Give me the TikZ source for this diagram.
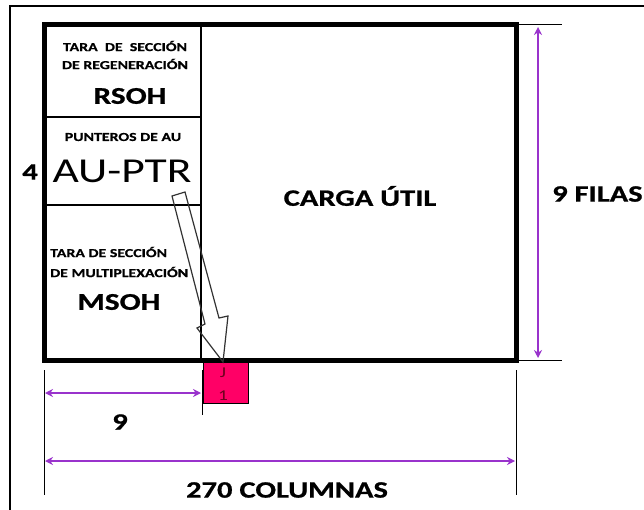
\documentclass[tikz,border=0pt]{standalone}
\usepackage{fontspec}
\setmainfont{Carlito}[FakeStretch=1.3,BoldFeatures={FakeBold=0.8}]
\usetikzlibrary{arrows.meta}
\definecolor{dimpurple}{RGB}{153,51,204}
\definecolor{jpink}{RGB}{255,0,102}
\definecolor{jred}{RGB}{110,0,30}

\begin{document}
\begin{tikzpicture}[x=1pt,y=-1pt,>={Stealth[length=8pt,width=8pt]},
                    small text/.style={font=\bfseries\fontsize{12.2}{14}\selectfont,inner sep=0pt},
                    big text/.style={font=\bfseries\fontsize{24}{26}\selectfont,inner sep=0pt},
                    dim text/.style={font=\bfseries\fontsize{23.5}{25}\selectfont,inner sep=0pt},
                    dim arrow/.style={<->,draw=dimpurple,line width=2.6pt},
                    tick line/.style={draw=black,line width=1pt}]
  \useasboundingbox (0,0) rectangle (644,510);
  % outer frame
  \draw[line width=1.5pt] (10,510) -- (10,6) -- (644,6);
  % frame of the STM
  \coordinate (tl) at (44,25);
  \coordinate (br) at (516,360);
  \draw[line width=1.3pt] (201,25) -- (201,360);
  \draw[line width=1.3pt] (44,117) -- (201,117);
  \draw[line width=1.3pt] (44,205) -- (201,205);
  \draw[line width=5pt] (tl) rectangle (br);
  % RSOH
  \node[small text] (r1) at (125,46) {TARA\ \ DE\ \ SECCIÓN};
  \node[small text] (r2) at (125,64) {DE REGENERACIÓN};
  \node[big text] (rsoh) at (130,96) {RSOH};
  % AU-PTR
  \node[small text] (p1) at (123,137) {PUNTEROS DE AU};
  \node[inner sep=0pt,font=\fontsize{35}{37}\selectfont] (ptr) at (122,171) {AU-PTR};
  \node[dim text] (four) at (30,172) {4};
  % MSOH
  \node[small text,anchor=west] (m1) at (50,252) {TARA DE SECCIÓN};
  \node[small text,anchor=west] (m2) at (50,272) {DE MULTIPLEXACIÓN};
  \node[big text] (msoh) at (119,302) {MSOH};
  % payload
  \node[dim text] (carga) at (360,196) {CARGA ÚTIL};
  % J1 byte
  \node[draw=black,fill=jpink,minimum width=45pt,minimum height=41pt,inner sep=0pt,
        anchor=north west] (j1) at (203,362) {};
  \node[font=\fontsize{15}{16}\selectfont,text=jred,inner sep=0pt] at (223,373) {J};
  \node[font=\fontsize{15}{16}\selectfont,text=jred,inner sep=0pt] at (223,396) {1};
  % pointer arrow
  \draw[black!80,line width=1.2pt,line join=miter]
    (172,196) -- (185,192) -- (219,318) -- (228,316) -- (223,362)
    -- (197,328) -- (205,324) -- cycle;
  % rows
  \coordinate (rt1) at (518,25);  \coordinate (rt2) at (562,25);
  \coordinate (rb1) at (518,360); \coordinate (rb2) at (562,360);
  \draw[tick line] (rt1) -- (rt2);
  \draw[tick line] (rb1) -- (rb2);
  \coordinate (ra) at (538,27);
  \coordinate (rb) at (538,358);
  \draw[dim arrow] (ra) -- (rb);
  \node[dim text,anchor=west] (filas) at (552,194) {9 FILAS};
  % columns
  \coordinate (c1a) at (44,370);  \coordinate (c1b) at (44,495);
  \coordinate (c2a) at (202,370); \coordinate (c2b) at (202,415);
  \coordinate (c3a) at (516,370); \coordinate (c3b) at (516,495);
  \draw[tick line] (c1a) -- (c1b);
  \draw[tick line] (c2a) -- (c2b);
  \draw[tick line] (c3a) -- (c3b);
  \coordinate (n9a) at (45,393);   \coordinate (n9b) at (201,393);
  \coordinate (n270a) at (45,461); \coordinate (n270b) at (515,461);
  \draw[dim arrow] (n9a) -- (n9b);
  \draw[dim arrow] (n270a) -- (n270b);
  \node[dim text] (nine) at (120,422) {9};
  \node[dim text] (cols) at (287,490) {270 COLUMNAS};
\end{tikzpicture}
\end{document}
